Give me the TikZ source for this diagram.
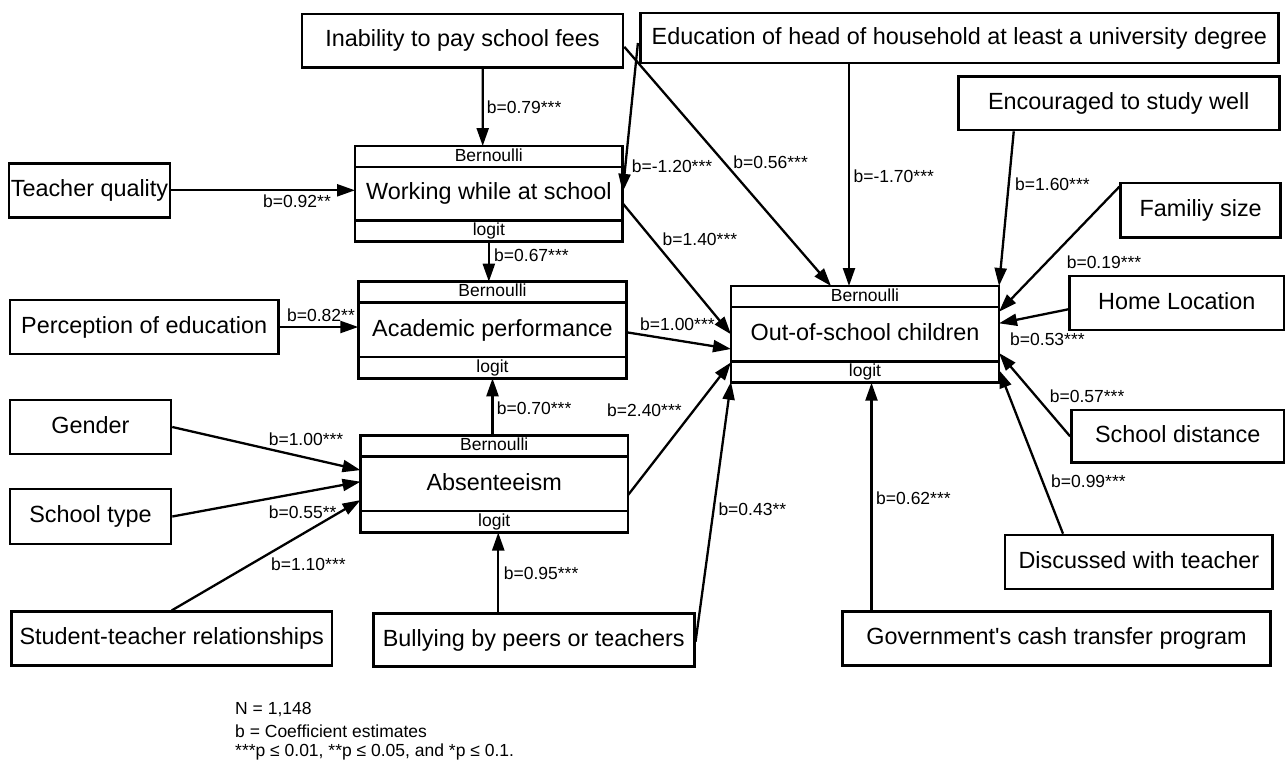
\documentclass[tikz,border=0pt]{standalone}
\usepackage{fontspec}
\setmainfont{Liberation Sans}
\newfontfamily\plainapos{Liberation Sans}
\usetikzlibrary{arrows.meta}
\newcommand\compbox[6]{%
  \node[cbox, minimum width=#4, minimum height=#5] (#1) at (#2,#3) {};
  \draw[line width=2.6pt] ([yshift=-21pt]#1.north west) -- ([yshift=-21pt]#1.north east);
  \draw[line width=2.6pt] ([yshift=21.5pt]#1.south west) -- ([yshift=21.5pt]#1.south east);
  \node[strip] (#1-top) at ([yshift=-10.5pt]#1.north) {Bernoulli};
  \node[strip] (#1-bot) at ([yshift=10.75pt]#1.south) {logit};
  \node[big] (#1-txt) at (#1.center) {#6};
}
\begin{document}
\begin{tikzpicture}[x=1pt,y=-1pt,
  box/.style={draw, line width=2.6pt, inner sep=0pt, text height=17pt, text depth=5pt, font=\fontsize{23.4}{28}\selectfont},
  cbox/.style={draw, line width=2.6pt, inner sep=0pt, outer sep=0pt},
  strip/.style={font=\fontsize{17.5}{20}\selectfont, inner sep=0pt, text height=12.5pt, text depth=3.5pt},
  big/.style={font=\fontsize{23.4}{28}\selectfont, inner sep=0pt, text height=17pt, text depth=5pt},
  lab/.style={font=\fontsize{17.5}{20}\selectfont, inner sep=0pt, anchor=west},
  arr/.style={line width=2.3pt, -{Triangle[length=18pt,width=12pt]}},
  ]
\path[use as bounding box] (0,0) rectangle (1285,763);

% composite boxes
\compbox{work}{488.85}{193.85}{267.7}{95.7}{Working while at school}
\compbox{acad}{492.5}{330}{268.4}{96.6}{Academic performance}
\compbox{abs}{494.25}{484.1}{267.5}{96.8}{Absenteeism}
\compbox{out}{865}{334.35}{268}{96.7}{Out-of-school children}

% simple boxes
\node[box, minimum width=321, minimum height=53.7] (inab) at (462.5,40.85) {Inability to pay school fees};
\node[box, minimum width=638.3, minimum height=50] (edu) at (959.35,38) {Education of head of household at least a university degree};
\node[box, minimum width=321.1, minimum height=53.3] (enc) at (1118.75,103.35) {Encouraged to study well};
\node[box, minimum width=160, minimum height=54.7] (fam) at (1200.65,210.35) {Familiy size};
\node[box, minimum width=214.4, minimum height=54] (home) at (1176.8,303) {Home Location};
\node[box, minimum width=212.6, minimum height=52.7] (sdist) at (1177.7,436.35) {School distance};
\node[box, minimum width=267.7, minimum height=54] (disc) at (1138.85,562) {Discussed with teacher};
\node[box, minimum width=428.4, minimum height=54] (gov) at (1056.5,638.7) {Government{\plainapos '}s cash transfer program};
\node[box, minimum width=161, minimum height=54] (teach) at (89.5,190.3) {Teacher quality};
\node[box, minimum width=268.3, minimum height=54] (perc) at (144.15,327) {Perception of education};
\node[box, minimum width=161, minimum height=54] (gender) at (90.5,427) {Gender};
\node[box, minimum width=161, minimum height=55] (stype) at (90.5,516.5) {School type};
\node[box, minimum width=320.5, minimum height=54] (stud) at (171.75,638.7) {Student-teacher relationships};
\node[box, minimum width=321, minimum height=53.4] (bully) at (533.75,640) {Bullying by peers or teachers};

% connectors
\draw[arr] ([xshift=20.2pt]inab.south) -- ([xshift=-6.15pt]work.north);
\draw[arr] ([yshift=-6pt]inab.east) -- ([xshift=100pt]out.north west);
\draw[arr] ([xshift=-1pt,yshift=-5pt]edu.west) -- ([yshift=2pt]work.east);
\draw[arr] ([xshift=-110.35pt]edu.south) -- ([xshift=118pt]out.north west);
\draw[arr] ([xshift=-105pt]enc.south) -- (out.north east);
\draw[arr] ([yshift=-5pt]fam.north west) -- ([yshift=-25.7pt]out.north east);
\draw[arr] ([yshift=-6.3pt]home.west) -- ([yshift=11pt]out.east);
\draw[arr] (sdist.west) -- ([yshift=-18.65pt]out.east);
\draw[arr] ([xshift=-75.85pt]disc.north) -- ([yshift=-35.65pt]out.east);
\draw[arr] ([xshift=-185pt]gov.north) -- ([xshift=6.5pt]out.south);
\draw[arr] (teach.east) -- (teach.east -| work.west);
\draw[arr] (perc.east) -- (perc.east -| acad.west);
\draw[arr] ([yshift=-9.5pt]work.east) -- (out.west);
\draw[arr] (work.south) -- (work.south |- acad.north);
\draw[arr] ([yshift=-2.3pt]acad.east) -- ([yshift=-14.65pt]out.west);
\draw[arr] (abs.north -| acad.south) -- (acad.south);
\draw[arr] ([yshift=-11pt]abs.east) -- ([yshift=-28pt]out.west);
\draw[arr] ([xshift=-35.5pt]bully.north) -- ([xshift=4pt]abs.south);
\draw[arr] ([yshift=-1.7pt]bully.east) -- ([yshift=1pt]out.south west);
\draw[arr] (gender.east) -- ([yshift=14pt]abs.west);
\draw[arr] (stype.east) -- ([yshift=2.4pt]abs.west);
\draw[arr] (stud.north) -- ([yshift=-16pt]abs.west);

% labels
\node[lab] (l1) at (486.7,107.3) {b=0.79***};
\node[lab] (l2) at (263,201.7) {b=0.92**};
\node[lab] (l3) at (631.7,166.7) {b=-1.20***};
\node[lab] (l4) at (733.2,162) {b=0.56***};
\node[lab] (l5) at (853.4,176.7) {b=-1.70***};
\node[lab] (l6) at (1015,184) {b=1.60***};
\node[lab] (l7) at (662.5,239) {b=1.40***};
\node[lab] (l8) at (494,255) {b=0.67***};
\node[lab] (l9) at (1066.6,262) {b=0.19***};
\node[lab] (l10) at (287,315.7) {b=0.82**};
\node[lab] (l11) at (640,324) {b=1.00***};
\node[lab] (l12) at (1010,339) {b=0.53***};
\node[lab] (l13) at (1049.7,396) {b=0.57***};
\node[lab] (l14) at (496.7,408) {b=0.70***};
\node[lab] (l15) at (607,410) {b=2.40***};
\node[lab] (l16) at (268.6,439.3) {b=1.00***};
\node[lab] (l17) at (1051,481.7) {b=0.99***};
\node[lab] (l18) at (876,498.3) {b=0.62***};
\node[lab] (l19) at (718.3,509.3) {b=0.43**};
\node[lab] (l20) at (268.6,512.3) {b=0.55**};
\node[lab] (l21) at (271,564.3) {b=1.10***};
\node[lab] (l22) at (503.7,573.3) {b=0.95***};

% notes
\node[lab] (n1) at (235,709.3) {N = 1,148};
\node[lab] (n2) at (235,731.5) {b = Coefficient estimates};
\node[lab] (n3) at (235,751.7) {***p ≤ 0.01, **p ≤ 0.05, and *p ≤ 0.1.};
\end{tikzpicture}
\end{document}
